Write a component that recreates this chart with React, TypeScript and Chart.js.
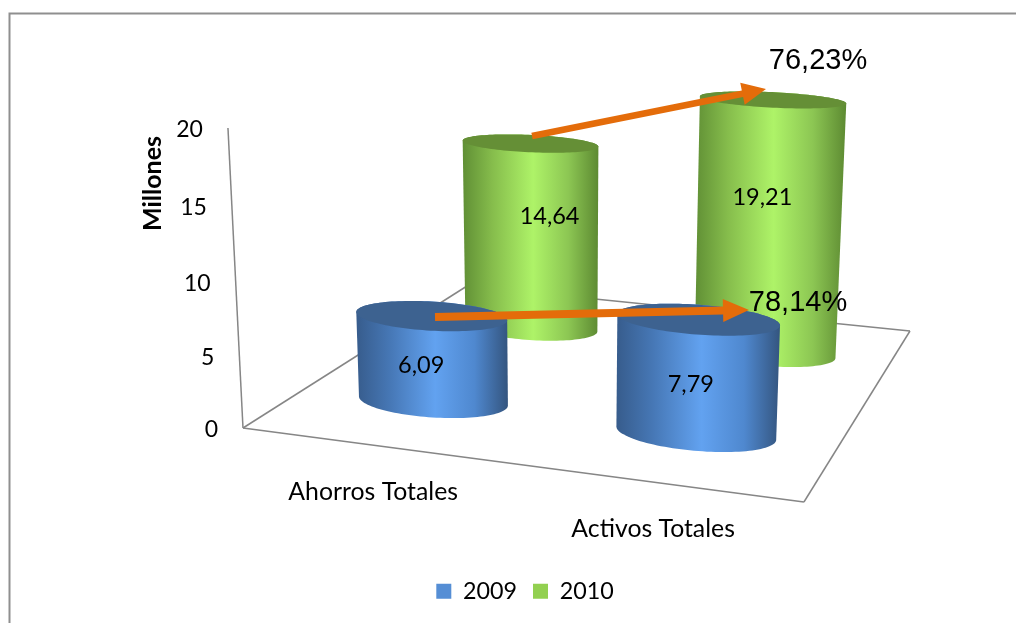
import React, { useEffect, useRef } from "react";
import { Chart, registerables } from "chart.js";

Chart.register(...registerables);

const categories = ["Ahorros Totales", "Activos Totales"];
const seriesNames = ["2009", "2010"];
const values2009 = [6.09, 7.79];
const values2010 = [14.64, 19.21];
const yTicks = [0, 5, 10, 15, 20];
const growthLabels = ["78,14%", "76,23%"];
const axisTitle = "Millones";

// Camera: maps chart fractions (u across categories, v across series depth, t up the value axis) to the page.
const CAM = {
  a: 485.7, b: 358.9, l: -25.3, c: 243,
  d: 27, e: -59.4, m: -305.8, f: 428,
  g: -0.0936, h: 0.2888, n: -0.045,
};
const project = (u: number, v: number, t: number) => {
  const w = CAM.g * u + CAM.h * v + CAM.n * t + 1;
  return {
    x: (CAM.a * u + CAM.b * v + CAM.l * t + CAM.c) / w,
    y: (CAM.d * u + CAM.e * v + CAM.m * t + CAM.f) / w,
  };
};

const RADIUS_U = 0.143;
const RADIUS_V = 0.089;
const BODY_LABEL_OFFSETS = [
  [[-11, 7], [-6, 8]],
  [[19, -20], [-6, -31]],
];
const SHADES = [
  { top: "#3d6290", stops: ["#375c8c", "#4677b5", "#62a2f0", "#4f88cf", "#34557f"] },
  { top: "#658f36", stops: ["#608f35", "#86bd4c", "#aef368", "#8cc653", "#5d8a32"] },
];
const ARROWS = [
  { from: [435, 317], to: [749, 310], wing: 26, half: 11.5, shaft: 4 },
  { from: [532, 136], to: [766, 89], wing: 24, half: 11.3, shaft: 3.3 },
];
const GROWTH_POS = [[798, 303], [818, 61]];
const TEXT_FONT = "Lato";
const LABEL_SIZE = 23.5;
const CATEGORY_SIZE = 24.8;
const TICK_SIZE = 23;
const TITLE_SIZE = 25;
const LEGEND_SIZE = 23.3;

type P = { x: number; y: number };
function hull(pts: P[]): P[] {
  const s = [...pts].sort((p, q) => p.x - q.x || p.y - q.y);
  const cross = (o: P, p: P, q: P) => (p.x - o.x) * (q.y - o.y) - (p.y - o.y) * (q.x - o.x);
  const lo: P[] = [];
  for (const p of s) {
    while (lo.length > 1 && cross(lo[lo.length - 2], lo[lo.length - 1], p) <= 0) lo.pop();
    lo.push(p);
  }
  const up: P[] = [];
  for (const p of [...s].reverse()) {
    while (up.length > 1 && cross(up[up.length - 2], up[up.length - 1], p) <= 0) up.pop();
    up.push(p);
  }
  return lo.slice(0, -1).concat(up.slice(0, -1));
}
const ring = (u: number, v: number, t: number) => {
  const out: P[] = [];
  for (let i = 0; i < 120; i++) {
    const a = (i / 120) * Math.PI * 2;
    out.push(project(u + RADIUS_U * Math.cos(a), v + RADIUS_V * Math.sin(a), t));
  }
  return out;
};
const fillPoly = (ctx: CanvasRenderingContext2D, pts: P[], fill: string | CanvasGradient) => {
  ctx.beginPath();
  pts.forEach((p, i) => (i ? ctx.lineTo(p.x, p.y) : ctx.moveTo(p.x, p.y)));
  ctx.closePath();
  ctx.fillStyle = fill;
  ctx.fill();
};
const segment = (ctx: CanvasRenderingContext2D, p: P, q: P) => {
  ctx.beginPath();
  ctx.moveTo(p.x, p.y);
  ctx.lineTo(q.x, q.y);
  ctx.stroke();
};

const scene = {
  id: "cylinderScene",
  beforeDraw(chart: any) {
    const { ctx, width, height } = chart;
    ctx.save();
    ctx.fillStyle = "#ffffff";
    ctx.fillRect(0, 0, width, height);
    ctx.strokeStyle = "#8f8f8f";
    ctx.lineWidth = 2;
    ctx.beginPath();
    ctx.moveTo(width, 13.5);
    ctx.lineTo(9.5, 13.5);
    ctx.lineTo(9.5, height);
    ctx.stroke();
    ctx.restore();
  },
  beforeDatasetDraw() {
    return false;
  },
  afterDatasetsDraw(chart: any) {
    const { ctx, chartArea, scales } = chart;
    const yScale = scales.y;
    const xScale = scales.x;
    const depthCount = chart.data.datasets.length;
    const uOf = (px: number) => (px - chartArea.left) / chartArea.width;
    const tOf = (px: number) => (yScale.bottom - px) / yScale.height;

    ctx.save();
    // floor and value axis
    ctx.strokeStyle = "#868686";
    ctx.lineWidth = 1.5;
    const A = project(0, 0, 0), B = project(1, 0, 0), C = project(1, 1, 0), D = project(0, 1, 0);
    const pTop = project(0, 0, 1);
    segment(ctx, A, B); segment(ctx, B, C); segment(ctx, C, D); segment(ctx, D, A); segment(ctx, A, pTop);

    // cylinders, back row first
    const labels: { text: string; x: number; y: number }[] = [];
    for (let ds = depthCount - 1; ds >= 0; ds--) {
      const v = (ds + 0.5) / depthCount;
      chart.getDatasetMeta(ds).data.forEach((bar: any, i: number) => {
        const u = uOf(bar.x);
        const t = tOf(bar.y);
        const top = ring(u, v, t);
        const body = hull(top.concat(ring(u, v, 0)));
        const xs = body.map((p) => p.x);
        const x0 = Math.min(...xs), x1 = Math.max(...xs);
        const g = ctx.createLinearGradient(x0, 0, x1, 0);
        const shade = SHADES[ds];
        [0, 0.22, 0.52, 0.78, 1].forEach((s, k) => g.addColorStop(s, shade.stops[k]));
        fillPoly(ctx, body, g);
        fillPoly(ctx, top, shade.top);
        const mid = project(u, v, t / 2);
        const off = BODY_LABEL_OFFSETS[ds][i];
        labels.push({
          text: (chart.data.datasets[ds].data[i] as number).toFixed(2).replace(".", ","),
          x: mid.x + off[0],
          y: mid.y + off[1],
        });
      });
    }

    // arrows
    ARROWS.forEach((arrow) => {
      const [sx, sy] = arrow.from, [ex, ey] = arrow.to;
      const ang = Math.atan2(ey - sy, ex - sx);
      ctx.save();
      ctx.translate(sx, sy);
      ctx.rotate(ang);
      const len = Math.hypot(ex - sx, ey - sy);
      ctx.fillStyle = "#e46c0a";
      ctx.beginPath();
      ctx.moveTo(0, -arrow.shaft);
      ctx.lineTo(len - arrow.wing, -arrow.shaft);
      ctx.lineTo(len - arrow.wing, -arrow.half);
      ctx.lineTo(len, 0);
      ctx.lineTo(len - arrow.wing, arrow.half);
      ctx.lineTo(len - arrow.wing, arrow.shaft);
      ctx.lineTo(0, arrow.shaft);
      ctx.closePath();
      ctx.fill();
      ctx.restore();
    });

    // texts
    ctx.fillStyle = "#000000";
    ctx.textBaseline = "middle";
    ctx.textAlign = "center";
    ctx.font = `${LABEL_SIZE}px ${TEXT_FONT}`;
    labels.forEach((l) => ctx.fillText(l.text, l.x, l.y));

    ctx.font = `${CATEGORY_SIZE}px ${TEXT_FONT}`;
    xScale.getLabels().forEach((name: string, i: number) => {
      const p = project(uOf(xScale.getPixelForValue(i)), 0, 0);
      ctx.fillText(name, p.x, p.y + 46.5);
    });

    ctx.textAlign = "right";
    ctx.font = `${TICK_SIZE}px ${TEXT_FONT}`;
    yTicks.forEach((tick) => {
      const p = project(0, 0, tOf(yScale.getPixelForValue(tick)));
      ctx.fillText(String(tick), p.x - 25, p.y + 2);
    });

    ctx.save();
    ctx.translate(153, 183.5);
    ctx.rotate(-Math.PI / 2);
    ctx.textAlign = "center";
    ctx.font = `bold ${TITLE_SIZE}px ${TEXT_FONT}`;
    ctx.fillText(axisTitle, 0, 0);
    ctx.restore();

    ctx.textAlign = "center";
    ctx.font = '29px "Liberation Sans"';
    growthLabels.forEach((text, i) => ctx.fillText(text, GROWTH_POS[i][0], GROWTH_POS[i][1]));
    ctx.restore();
  },
};

export default function App() {
  const ref = useRef<HTMLCanvasElement | null>(null);
  useEffect(() => {
    document.body.style.margin = "0";
    const chart = new Chart(ref.current as HTMLCanvasElement, {
      type: "bar",
      data: {
        labels: categories,
        datasets: [
          { label: seriesNames[0], data: values2009, backgroundColor: "#558ed5", grouped: false },
          { label: seriesNames[1], data: values2010, backgroundColor: "#92d050", grouped: false },
        ],
      } as any,
      options: {
        animation: false,
        responsive: false,
        layout: { padding: { left: 34, top: 40, right: 0, bottom: 10 } },
        scales: {
          x: { display: false, offset: true },
          y: { display: false, min: 0, max: 20 },
        },
        plugins: {
          tooltip: { enabled: false },
          legend: {
            position: "bottom",
            labels: {
              boxWidth: 15,
              boxHeight: 15,
              padding: 16,
              color: "#000000",
              font: { family: TEXT_FONT, size: LEGEND_SIZE },
            },
          },
        },
      },
      plugins: [scene],
    } as any);
    return () => chart.destroy();
  }, []);
  return (
    <div style={{ position: "absolute", left: 0, top: 0, width: 1016, height: 623 }}>
      <canvas ref={ref} width={1016} height={623} style={{ display: "block" }} />
    </div>
  );
}
